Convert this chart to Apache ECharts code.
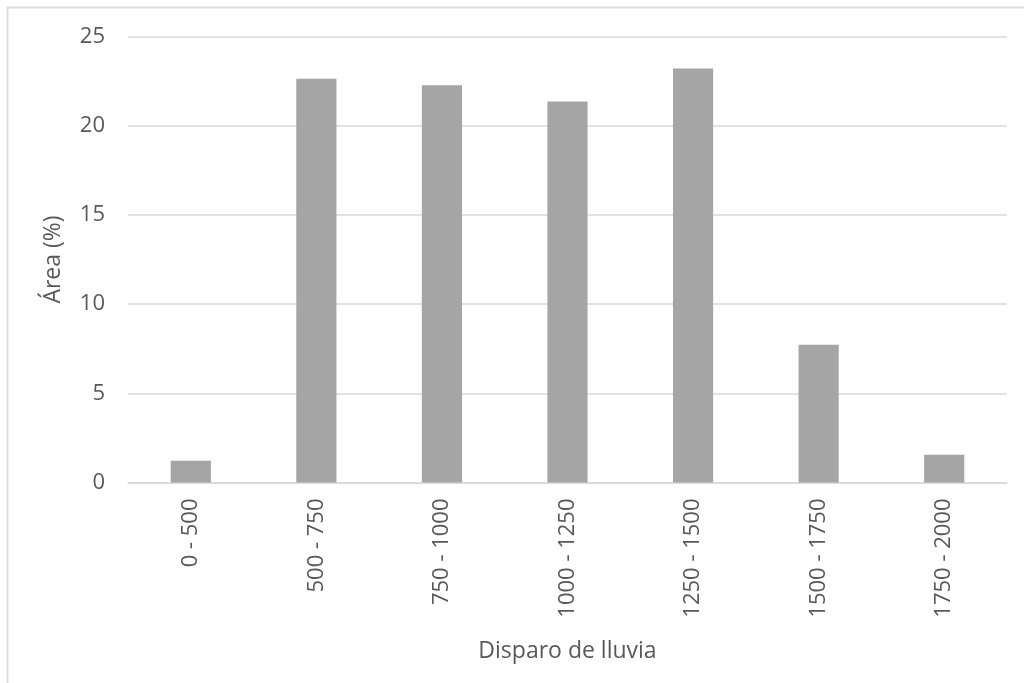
<!DOCTYPE html>
<html>
<head>
<meta charset="utf-8">
<style>
  html, body { margin: 0; padding: 0; background: #ffffff; }
  #chart { width: 1024px; height: 683px; }
</style>
<script src="https://cdn.jsdelivr.net/npm/echarts@6/dist/echarts.min.js"></script>
</head>
<body>
<div id="chart"></div>
<script>
// Rainfall classes (mm) and share of area in each class (%)
const categories = ['0 - 500', '500 - 750', '750 - 1000', '1000 - 1250', '1250 - 1500', '1500 - 1750', '1750 - 2000'];
const areaPct = [1.22, 22.63, 22.27, 21.36, 23.21, 7.72, 1.55];
const yTicks = { min: 0, max: 25, interval: 5 };

const textColor = '#595959';
const fontFamily = '"Open Sans", "Noto Sans", sans-serif';

const chart = echarts.init(document.getElementById('chart'), null, { renderer: 'canvas' });

chart.setOption({
  animation: false,
  backgroundColor: '#ffffff',
  graphic: [{
    type: 'rect',
    shape: { x: 7.5, y: 7.5, width: 1200, height: 1000 },
    style: { fill: 'none', stroke: '#dddddd', lineWidth: 2 },
    silent: true,
    z: -1
  }],
  grid: { left: 128, right: 17, top: 36.5, bottom: 200.5, containLabel: false },
  xAxis: {
    type: 'category',
    data: categories,
    name: 'Disparo de lluvia',
    nameLocation: 'middle',
    nameGap: 157,
    nameTextStyle: { color: textColor, fontSize: 23, fontFamily: fontFamily },
    axisLine: { show: true, lineStyle: { color: '#d9d9d9', width: 1.5 } },
    axisTick: { show: false },
    axisLabel: { rotate: 90, margin: 16, color: textColor, fontSize: 22, fontFamily: fontFamily }
  },
  yAxis: {
    type: 'value',
    min: yTicks.min,
    max: yTicks.max,
    interval: yTicks.interval,
    name: 'Área (%)',
    nameLocation: 'middle',
    nameGap: 63,
    nameTextStyle: { color: textColor, fontSize: 23, fontFamily: fontFamily },
    axisLine: { show: false },
    axisTick: { show: false },
    axisLabel: { margin: 23, color: textColor, fontSize: 22, fontFamily: fontFamily },
    splitLine: { lineStyle: { color: '#d9d9d9', width: 1.5 } }
  },
  series: [{
    type: 'bar',
    data: areaPct,
    barWidth: '32%',
    itemStyle: { color: '#a5a5a5' }
  }]
});
</script>
</body>
</html>
